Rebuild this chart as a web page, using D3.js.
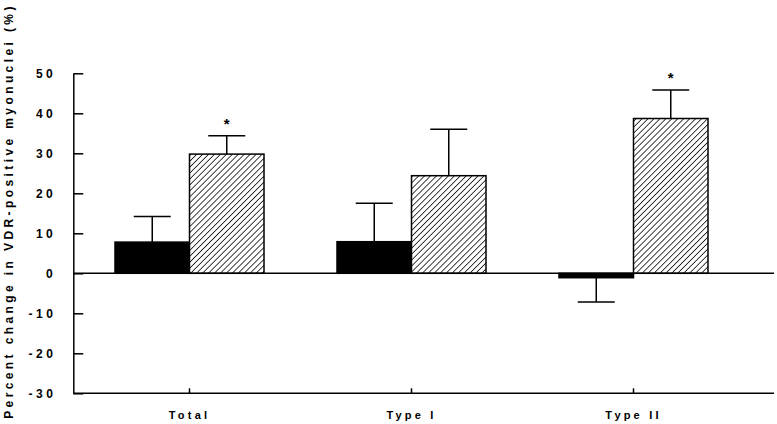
<!DOCTYPE html>
<html>
<head>
<meta charset="utf-8">
<script src="https://cdn.jsdelivr.net/npm/d3@7"></script>
<style>
  body { margin: 0; background: #fff; }
  text { font-family: Arial, "Liberation Sans", sans-serif; font-weight: bold; fill: #000; }
</style>
</head>
<body>
<script>
// groups along the x axis
const groups = ["Total", "Type I", "Type II"];
const series = ["placebo", "vitD"];
// mean % change per series
const placebo = [7.8, 7.9, -1.1];
const vitD = [29.8, 24.4, 38.7];
// error bar ends (mean +/- SD)
const placeboErr = [14.2, 17.5, -7.2];
const vitDErr = [34.4, 36.0, 45.8];
// significance markers
const vitDStar = [true, false, true];
const yTicks = [-30, -20, -10, 0, 10, 20, 30, 40, 50];

const w = 777, h = 424;
const svg = d3.select("body").append("svg").attr("width", w).attr("height", h);

// hatch pattern
const defs = svg.append("defs");
const pat = defs.append("pattern")
  .attr("id", "hatch")
  .attr("patternUnits", "userSpaceOnUse")
  .attr("width", 4.2).attr("height", 4.2)
  .attr("patternTransform", "rotate(45)");
pat.append("rect").attr("width", 4.2).attr("height", 4.2).attr("fill", "#fff");
pat.append("line").attr("x1", 0).attr("y1", 0).attr("x2", 0).attr("y2", 4.2)
  .attr("stroke", "#000").attr("stroke-width", 1.5);

const y = d3.scaleLinear().domain([-30, 50]).range([393.3, 73.3]);
const x = d3.scaleBand().domain(groups).range([78.5, 744.5]).padding(0);
const xs = d3.scaleBand().domain(series).range([-74.5, 74.5]);

const rows = groups.map((g, i) => [
  { g, s: "placebo", v: placebo[i], e: placeboErr[i], star: false },
  { g, s: "vitD", v: vitD[i], e: vitDErr[i], star: vitDStar[i] }
]).flat();

const cx = d => x(d.g) + x.bandwidth() / 2 + xs(d.s);

// error bars (drawn under bars)
const eb = svg.append("g").attr("stroke", "#000").attr("stroke-width", 1.5);
rows.forEach(d => {
  const mx = cx(d) + xs.bandwidth() / 2;
  eb.append("line").attr("x1", mx).attr("x2", mx).attr("y1", y(d.v)).attr("y2", y(d.e));
  eb.append("line").attr("x1", mx - 18.5).attr("x2", mx + 18.5).attr("y1", y(d.e)).attr("y2", y(d.e));
});

// bars
svg.append("g").selectAll("rect")
  .data(rows)
  .enter()
  .append("rect")
  .attr("x", d => cx(d))
  .attr("y", d => y(Math.max(0, d.v)))
  .attr("width", xs.bandwidth())
  .attr("height", d => Math.abs(y(d.v) - y(0)))
  .attr("fill", d => d.s === "placebo" ? "#000" : "url(#hatch)")
  .attr("stroke", "#000")
  .attr("stroke-width", 1.5);

// stars
svg.append("g").selectAll("text")
  .data(rows.filter(d => d.star))
  .enter()
  .append("text")
  .attr("x", d => cx(d) + xs.bandwidth() / 2)
  .attr("y", d => y(d.e) - 7)
  .attr("text-anchor", "middle")
  .style("font-size", "15px")
  .text("*");

// y axis
const yAxis = d3.axisLeft(y).tickValues(yTicks).tickSize(-10).tickPadding(17)
  .tickSizeOuter(0).tickFormat(d => String(d));
const gy = svg.append("g").attr("transform", "translate(73.3,0)").call(yAxis);
gy.selectAll("path, line").attr("stroke", "#000").attr("stroke-width", 1.5);
gy.selectAll("text")
  .style("font-family", "Arial, 'Liberation Sans', sans-serif")
  .style("font-weight", "bold")
  .style("font-size", "12px")
  .style("letter-spacing", "3.5px");

// x axis
const xAxis = d3.axisBottom(x).tickSize(-5).tickPadding(18).tickSizeOuter(0);
const gx = svg.append("g").attr("transform", "translate(0," + y(-30) + ")").call(xAxis);
gx.select(".domain").remove();
gx.append("line").attr("x1", 73.3).attr("x2", 774).attr("y1", 0).attr("y2", 0)
  .attr("stroke", "#000").attr("stroke-width", 1.5);
gx.selectAll("line").attr("stroke", "#000").attr("stroke-width", 1.5);
gx.selectAll("text")
  .style("font-family", "Arial, 'Liberation Sans', sans-serif")
  .style("font-weight", "bold")
  .style("font-size", "11px")
  .style("letter-spacing", "3.2px");

// zero line
svg.append("line").attr("x1", 73.3).attr("x2", 774).attr("y1", y(0)).attr("y2", y(0))
  .attr("stroke", "#000").attr("stroke-width", 1.5);

// y title
svg.append("text")
  .attr("transform", "translate(13," + 211 + ") rotate(-90)")
  .attr("text-anchor", "middle")
  .style("font-size", "12px")
  .style("letter-spacing", "3.4px")
  .text("Percent change in VDR-positive myonuclei (%)");
</script>
</body>
</html>
